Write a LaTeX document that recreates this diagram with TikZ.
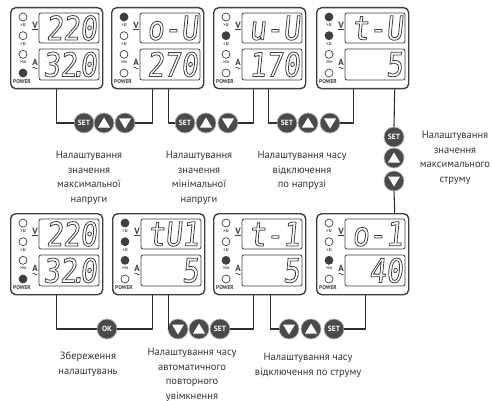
\documentclass[tikz,border=0pt]{standalone}
\usepackage{fontspec}
\setmainfont{PT Sans}
\newfontfamily\segfont[FakeStretch=0.85,FakeSlant=0.1]{DejaVu Sans Mono}
\definecolor{panelgray}{HTML}{3F3F3F}
\definecolor{btngray}{HTML}{4A4A4A}
\definecolor{wiregray}{HTML}{2E2E2E}
\definecolor{txtgray}{HTML}{333333}
% 7세그먼트 글자: 윤곽선만
\newcommand{\segtext}[1]{\special{pdf:code 1 Tr 0.8 w}#1}
% 패널: 이름, 왼쪽 위 x, y, LED 색, 위 표시, 아래 표시
\newcommand{\panel}[6]{%
  \node[panelbox, anchor=north west] (#1) at (#2,#3) {};
  \begin{scope}[shift={(#1.north west)}]
    \foreach \s [count=\i] in {#4} {
      \pgfmathsetmacro\ly{10+18.67*(\i-1)}
      \draw[led, fill=\s] (13,\ly) circle (4pt);
    }
    \foreach \lab [count=\i] in {>U,<U,>In} {
      \pgfmathsetmacro\ly{18+18.67*(\i-1)}
      \node[ledtext] (#1-l\i) at (13,\ly) {\lab};
    }
    \node[ledtext, font=\bfseries\fontsize{5.5}{5.5}\selectfont] (#1-pw) at (12,75) {POWER};
    \node[unit] (#1-v) at (25,19) {\underline{V}};
    \node[unit] (#1-a) at (25,55) {A};
    \draw[panelgray, line width=0.6pt] (22.5,61) sin (23.75,60) cos (25,61) sin (26.25,62) cos (27.5,61);
    \draw[disp] (29,6) rectangle (89,36);
    \draw[disp] (29,42) rectangle (89,73);
    \node[seg] (#1-top) at (87,21) {\segtext{#5}};
    \node[seg] (#1-bot) at (87,57.5) {\segtext{#6}};
  \end{scope}
}
\begin{document}
\begin{tikzpicture}[x=1pt, y=-1pt, line join=round,
  panelbox/.style={draw=panelgray, line width=1.4pt, rounded corners=5pt, fill=white,
    minimum width=92pt, minimum height=81pt, inner sep=0pt},
  led/.style={draw=panelgray, line width=0.7pt},
  ledtext/.style={inner sep=0pt, text=panelgray, font=\bfseries\fontsize{4.5}{4.5}\selectfont},
  unit/.style={inner sep=0pt, text=panelgray, font=\bfseries\fontsize{9}{9}\selectfont},
  disp/.style={draw=panelgray, line width=0.8pt, rounded corners=2pt},
  seg/.style={anchor=east, inner sep=0pt, text=panelgray, font=\segfont\fontsize{33}{33}\selectfont},
  btn/.style={circle, fill=btngray, draw=gray!60, line width=0.7pt, minimum size=20pt,
    inner sep=0pt, text=white, font=\bfseries\fontsize{7.5}{7.5}\selectfont},
  btnup/.style={btn, path picture={\fill[white] ([yshift=5.5pt]path picture bounding box.center)
    -- ++(-6pt,-10pt) -- ++(12pt,0pt) -- cycle;}},
  btndown/.style={btn, path picture={\fill[white] ([yshift=-5.5pt]path picture bounding box.center)
    -- ++(-6pt,10pt) -- ++(12pt,0pt) -- cycle;}},
  wire/.style={draw=wiregray, line width=1.1pt},
  captext/.style={anchor=north, align=center, inner sep=0pt, text=txtgray,
    font=\fontsize{10.5}{14.5}\selectfont}]
  \useasboundingbox (0,0) rectangle (492,401);
  % 위 줄 패널
  \panel{p1}{10}{7}{white,white,white,panelgray}{220}{32\kern-.22em.\kern-.2em0}
  \panel{p2}{111}{7}{panelgray,white,white,white}{o-U}{270}
  \panel{p3}{213}{7}{white,panelgray,white,white}{u-U}{170}
  \panel{p4}{316}{7}{panelgray,panelgray,white,white}{t-U}{5}
  % 아래 줄 패널
  \panel{q1}{10}{213}{white,white,white,panelgray}{220}{32\kern-.22em.\kern-.2em0}
  \panel{q2}{112}{213}{panelgray,panelgray,panelgray,white}{tU1}{5}
  \panel{q3}{213}{213}{white,white,panelgray,white}{t-1}{5}
  \panel{q4}{316}{213}{white,white,panelgray,white}{o-1}{40}
  % 위 줄 버튼
  \node[btn] (ts1) at (84,123) {SET};
  \node[btnup] (tu1) at (104,123) {};
  \node[btndown] (td1) at (125,123) {};
  \node[btn] (ts2) at (185,123) {SET};
  \node[btnup] (tu2) at (206,123) {};
  \node[btndown] (td2) at (228,123) {};
  \node[btn] (ts3) at (287,123) {SET};
  \node[btnup] (tu3) at (308,123) {};
  \node[btndown] (td3) at (330,123) {};
  % 오른쪽 세로 버튼
  \node[btn] (vs) at (394,137) {SET};
  \node[btnup] (vu) at (394,158) {};
  \node[btndown] (vd) at (394,181) {};
  % 아래 줄 버튼
  \node[btn] (ok) at (107,329) {OK};
  \node[btndown] (bd2) at (178,329) {};
  \node[btnup] (bu2) at (199,329) {};
  \node[btn] (bs2) at (220,329) {SET};
  \node[btndown] (bd3) at (289,329) {};
  \node[btnup] (bu3) at (311,329) {};
  \node[btn] (bs3) at (334,329) {SET};
  % 연결선
  \draw[wire] (p1.south) |- (ts1.west);
  \draw[wire] (td1.east) -| ([xshift=-5pt]p2.south);
  \draw[wire] ([xshift=11pt]p2.south) |- (ts2.west);
  \draw[wire] (td2.east) -| ([xshift=-6pt]p3.south);
  \draw[wire] ([xshift=9pt]p3.south) |- (ts3.west);
  \draw[wire] (td3.east) -| ([xshift=-9pt]p4.south);
  \draw[wire] ([xshift=32pt]p4.south) -- (vs.north);
  \draw[wire] (vd.south) -- ([xshift=32pt]q4.north);
  \draw[wire] ([xshift=3pt]q4.south) |- (bs3.east);
  \draw[wire] (bd3.west) -| ([xshift=11pt]q3.south);
  \draw[wire] (bs2.east) -| ([xshift=-6pt]q3.south);
  \draw[wire] (bd2.west) -| ([xshift=10pt]q2.south);
  \draw[wire] (ok.east) -| ([xshift=-6pt]q2.south);
  \draw[wire] (ok.west) -| (q1.south);
  % 설명 글
  \node[captext] (la) at (89,151) {Налаштування\\значення\\максимальної\\напруги};
  \node[captext] (lb) at (199,151) {Налаштування\\значення\\мінімальної\\напруги};
  \node[captext] (lc) at (302,151) {Налаштування часу\\відключення\\по напрузі};
  \node[captext] (ld) at (455,131) {Налаштування\\значення\\максимального\\струму};
  \node[captext] (le) at (88,352) {Збереження\\налаштувань};
  \node[captext] (lf) at (192,348) {Налаштування часу\\автоматичного\\повторного\\увімкнення};
  \node[captext] (lg) at (308,353) {Налаштування часу\\відключення по струму};
\end{tikzpicture}
\end{document}
